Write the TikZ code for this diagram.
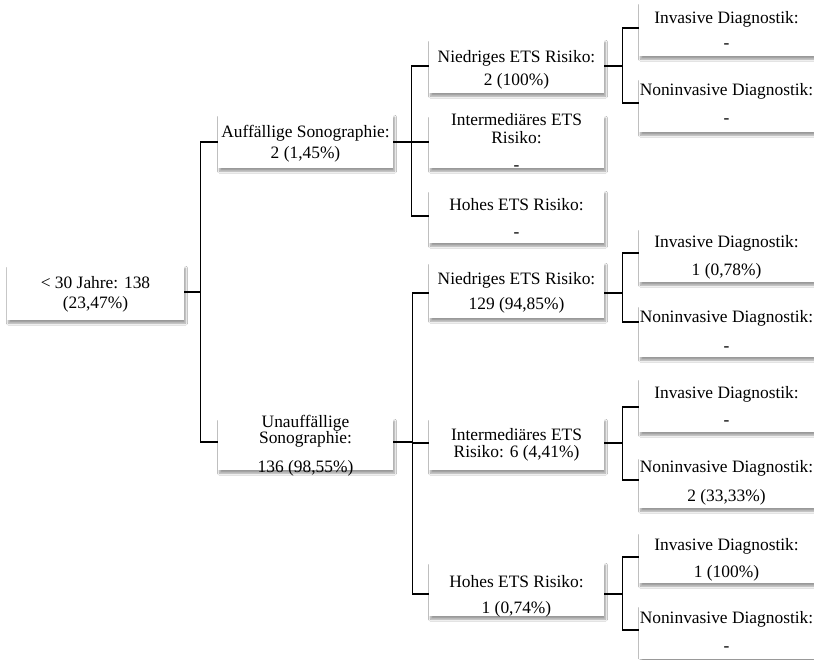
\documentclass[tikz,border=0pt]{standalone}
\usepackage{fontspec}
\setmainfont{Liberation Serif}
\usetikzlibrary{shadows.blur}
% text block of a box: #1 = vertical raise, #2 = lines
\newcommand{\boxlines}[2]{\raisebox{#1}[0pt][0pt]{\begin{tabular}{@{}c@{}}#2\end{tabular}}}

\begin{document}
\begin{tikzpicture}[x=1pt,y=1pt,
  font=\fontsize{17.4}{20}\selectfont,
  box/.style={fill=white, inner sep=0pt, minimum width=175pt, minimum height=54pt,
    blur shadow={shadow xshift=1.5pt, shadow yshift=-3.2pt, shadow blur radius=2pt, shadow blur steps=6, shadow opacity=40}},
  conn/.style={line width=1.3pt, black}]
\fill[white] (0,0) rectangle (814,-659);
\useasboundingbox (0,0) rectangle (814,-659);

% level 0
\node[box, minimum width=177pt, minimum height=55pt] (root) at (95.5,-292.5)
  {\boxlines{-5.85pt}{< 30 Jahre: 138\\(23,47\%)}};

% level 1
\node[box] (auff) at (305.5,-141)
  {\boxlines{-6.85pt}{Auffällige Sonographie:\\[1pt]2 (1,45\%)}};
\node[box, minimum height=52pt] (unauff) at (305.5,-444)
  {\boxlines{-5.85pt}{Unauffällige\\[-4pt]Sonographie:\\[9pt]136 (98,55\%)}};

% level 2, first branch
\node[box] (niedA) at (516.5,-66)
  {\boxlines{-7.85pt}{Niedriges ETS Risiko:\\[3pt]2 (100\%)}};
\node[box, minimum height=53pt] (intA) at (516.5,-141.5)
  {\boxlines{-6.35pt}{Intermediäres ETS\\[-2pt]Risiko:\\[7pt]-}};
\node[box, minimum height=53pt] (hohA) at (516.5,-216.5)
  {\boxlines{-7.35pt}{Hohes ETS Risiko:\\[7pt]-}};

% level 2, second branch
\node[box, minimum height=56pt] (niedB) at (516.5,-290)
  {\boxlines{-6.85pt}{Niedriges ETS Risiko:\\[5pt]129 (94,85\%)}};
\node[box, minimum height=52pt] (intB) at (516.5,-444)
  {\boxlines{-4.85pt}{Intermediäres ETS\\[-3pt]Risiko: 6 (4,41\%)}};
\node[box] (hohB) at (516.5,-589)
  {\boxlines{-11.35pt}{Hohes ETS Risiko:\\[6pt]1 (0,74\%)}};

% level 3
\node[box] (invA) at (726.5,-29)
  {\boxlines{-6.85pt}{Invasive Diagnostik:\\[5pt]-}};
\node[box] (nonA) at (726.5,-105)
  {\boxlines{-4.35pt}{Noninvasive Diagnostik:\\[8pt]-}};
\node[box] (invB) at (726.5,-255)
  {\boxlines{-6.35pt}{Invasive Diagnostik:\\[8pt]1 (0,78\%)}};
\node[box, minimum height=52pt] (nonB) at (726.5,-331)
  {\boxlines{-5.85pt}{Noninvasive Diagnostik:\\[9pt]-}};
\node[box] (invC) at (726.5,-405)
  {\boxlines{-6.85pt}{Invasive Diagnostik:\\[7pt]-}};
\node[box, minimum height=51pt] (nonC) at (726.5,-482.5)
  {\boxlines{-4.35pt}{Noninvasive Diagnostik:\\[9pt]2 (33,33\%)}};
\node[box, minimum height=51pt] (invD) at (726.5,-557.5)
  {\boxlines{-6.35pt}{Invasive Diagnostik:\\[7pt]1 (100\%)}};
\node[box] (nonD) at (726.5,-632)
  {\boxlines{-5.35pt}{Noninvasive Diagnostik:\\[8pt]-}};

% connectors
\draw[conn] ([yshift=0.5pt]root.east) -- ++(16,0) |- ([yshift=-1pt]auff.west);
\draw[conn] ([yshift=0.5pt]root.east) -- ++(16,0) |- ([yshift=2pt]unauff.west);

\draw[conn] ([yshift=-1pt]auff.east) -- ++(18,0) |- (niedA.west);
\draw[conn] ([yshift=-1pt]auff.east) -- ++(18,0) |- ([yshift=-0.5pt]intA.west);
\draw[conn] ([yshift=-1pt]auff.east) -- ++(18,0) |- ([yshift=0.5pt]hohA.west);

\draw[conn] ([yshift=2pt]unauff.east) -- ++(19,0) |- ([yshift=-3pt]niedB.west);
\draw[conn] ([yshift=2pt]unauff.east) -- ++(19,0) |- ([yshift=1pt]intB.west);
\draw[conn] ([yshift=2pt]unauff.east) -- ++(19,0) |- ([yshift=-5pt]hohB.west);

\draw[conn] (niedA.east) -- ++(18,0) |- ([yshift=1pt]invA.west);
\draw[conn] (niedA.east) -- ++(18,0) |- ([yshift=2pt]nonA.west);

\draw[conn] ([yshift=-3pt]niedB.east) -- ++(18,0) |- ([yshift=2pt]invB.west);
\draw[conn] ([yshift=-3pt]niedB.east) -- ++(18,0) |- ([yshift=9pt]nonB.west);

\draw[conn] ([yshift=1pt]intB.east) -- ++(18,0) |- ([yshift=-2pt]invC.west);
\draw[conn] ([yshift=1pt]intB.east) -- ++(18,0) |- ([yshift=2.5pt]nonC.west);

\draw[conn] ([yshift=-5pt]hohB.east) -- ++(18,0) |- ([yshift=0.5pt]invD.west);
\draw[conn] ([yshift=-5pt]hohB.east) -- ++(18,0) |- ([yshift=2pt]nonD.west);
\end{tikzpicture}
\end{document}
